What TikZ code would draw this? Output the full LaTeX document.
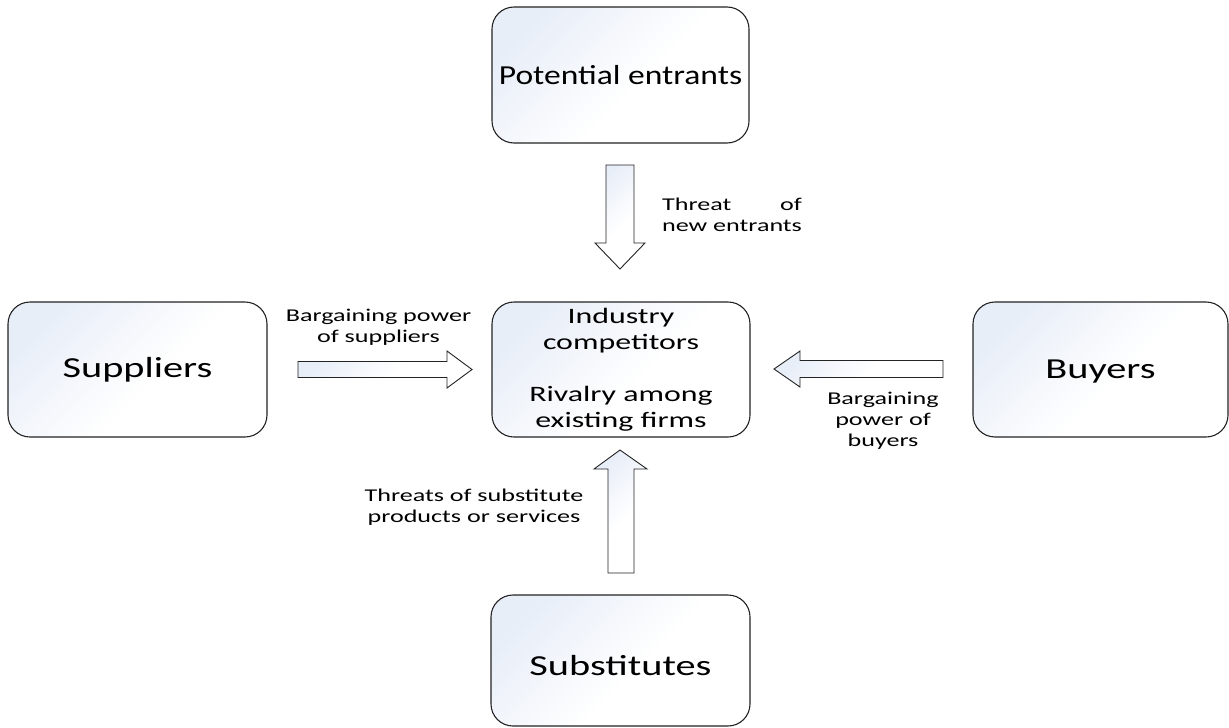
\documentclass[tikz,border=0pt]{standalone}
\usepackage{fontspec}
\usepackage{calc}
\setmainfont{Carlito}
\newfontfamily\labfont{Carlito}[FakeStretch=1.45]
\newfontfamily\bigfont{Carlito}[FakeStretch=1.39]
\newfontfamily\pefont{Carlito}[FakeStretch=1.22]
\definecolor{boxtop}{RGB}{232,238,248}
\definecolor{edge}{RGB}{35,35,35}
\pgfdeclareverticalshading{softbox}{100bp}{color(0bp)=(white); color(45bp)=(white);
  color(75bp)=(boxtop); color(100bp)=(boxtop)}
\begin{document}
\begin{tikzpicture}[x=1pt,y=-1pt,
  box/.style={draw=edge, line width=1.1pt, rounded corners=22pt,
    shading=softbox, shading angle=45,
    inner sep=0pt, align=center},
  bigtext/.style={font=\bigfont\fontsize{29}{34}\selectfont},
  blockarrow/.style={draw=edge, line width=0.9pt, line join=miter,
    shading=softbox, shading angle=45},
  lab/.style={inner sep=0pt, align=center, font=\labfont\fontsize{18}{21}\selectfont}]
\useasboundingbox (0,0) rectangle (1229,728);

% boxes
\node[box, minimum width=257pt, minimum height=136pt,
  font=\pefont\fontsize{27.5}{32}\selectfont] (pe) at (620.5,75) {Potential entrants};
\node[box, minimum width=258pt, minimum height=135pt,
  font=\labfont\fontsize{22}{26}\selectfont] (ind) at (621,369.5)
  {Industry\\competitors\\[26pt]Rivalry among\\existing firms};
\node[box, bigtext, minimum width=259pt, minimum height=135pt] (sup) at (137.5,369.5) {Suppliers};
\node[box, bigtext, minimum width=255pt, minimum height=135pt,
  text depth=0pt] (buy) at (1100.5,369.5) {Buyers};
\node[box, bigtext, minimum width=259pt, minimum height=131pt,
  text height=29pt, text depth=0pt] (sub) at (620.5,660.5) {Substitutes};

% block arrows
\draw[blockarrow] (606,165) -- (634,165) -- (634,243) -- (645,243)
  -- (620,269) -- (595,243) -- (606,243) -- cycle;
\draw[blockarrow] (298,361.5) -- (447,361.5) -- (447,351) -- (472,369.5)
  -- (447,388) -- (447,377.5) -- (298,377.5) -- cycle;
\draw[blockarrow] (943,360.5) -- (800,360.5) -- (800,351) -- (774,369)
  -- (800,387) -- (800,377.5) -- (943,377.5) -- cycle;
\draw[blockarrow] (608,573) -- (608,469) -- (594,469) -- (620,450)
  -- (647,469) -- (634,469) -- (634,573) -- cycle;

% labels
\node[lab, align=left] (tnew) at (732,215)
  {\makebox[\widthof{new entrants}][s]{Threat\hfill of}\\new entrants};
\node[lab] (bsup) at (378.5,327) {Bargaining power\\of suppliers};
\node[lab] (bbuy) at (883,420.5) {Bargaining\\power of\\buyers};
\node[lab] (tsub) at (474,507.5) {Threats of substitute\\products or services};
\end{tikzpicture}
\end{document}
